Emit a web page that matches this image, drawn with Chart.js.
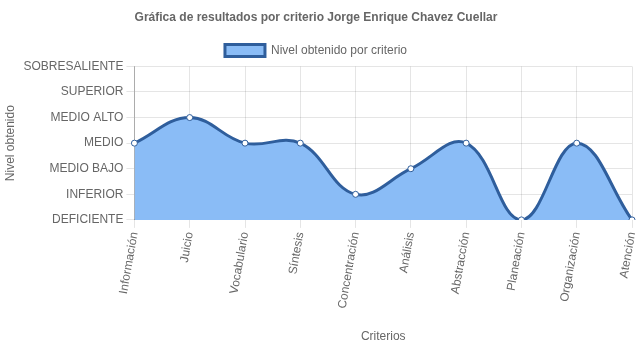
<!DOCTYPE html>
<html>
<head>
<meta charset="utf-8">
<script src="https://cdn.jsdelivr.net/npm/chart.js@4/dist/chart.umd.min.js"></script>
<style>
    html, body { margin: 0; padding: 0; background: #fff; }
    #wrap { width: 637px; height: 348px; }
</style>
</head>
<body>
<div id="wrap"><canvas id="resultsChart"></canvas></div>
<script>
// Chart data
const criterios = ['Información', 'Juicio', 'Vocabulario', 'Síntesis', 'Concentración',
    'Análisis', 'Abstracción', 'Planeación', 'Organización', 'Atención'];
const niveles = ['DEFICIENTE', 'INFERIOR', 'MEDIO BAJO', 'MEDIO', 'MEDIO ALTO', 'SUPERIOR', 'SOBRESALIENTE'];
const valores = [3, 4, 3, 3, 1, 2, 3, 0, 3, 0];

Chart.defaults.font.family = '"Liberation Sans", Arial, Helvetica, sans-serif';
Chart.defaults.font.size = 12;
Chart.defaults.color = '#666';

const ctx = document.getElementById('resultsChart').getContext('2d');

new Chart(ctx, {
    type: 'line',
    data: {
        labels: criterios,
        datasets: [{
            label: 'Nivel obtenido por criterio',
            data: valores,
            borderColor: '#2f5e9c',
            backgroundColor: 'rgba(138, 188, 246, 1)',
            borderWidth: 3,
            fill: 'origin',
            tension: 0.4,
            pointRadius: 3,
            pointBackgroundColor: '#fff',
            pointBorderColor: '#2f5e9c',
            pointBorderWidth: 1
        }]
    },
    options: {
        responsive: true,
        maintainAspectRatio: false,
        animation: false,
        layout: {
            padding: { left: 0, right: 5, top: 0, bottom: 0 }
        },
        plugins: {
            title: {
                display: true,
                text: 'Gráfica de resultados por criterio Jorge Enrique Chavez Cuellar',
                font: { size: 12, weight: 'bold' },
                padding: { top: 10, bottom: 14 }
            },
            legend: {
                display: true,
                labels: {
                    boxWidth: 40,
                    boxHeight: 12,
                    padding: 6
                }
            },
            tooltip: { enabled: false }
        },
        scales: {
            y: {
                min: 0,
                max: 6,
                ticks: {
                    stepSize: 1,
                    color: '#666',
                    callback: function(value) {
                        return niveles[value];
                    }
                },
                grid: {
                    color: 'rgba(0, 0, 0, 0.1)',
                    tickLength: 8
                },
                border: { color: 'rgba(0, 0, 0, 0.25)' },
                title: {
                    display: true,
                    text: 'Nivel obtenido',
                    color: '#666',
                    padding: { top: 3, bottom: 3 }
                }
            },
            x: {
                offset: false,
                ticks: {
                    minRotation: 80,
                    maxRotation: 80,
                    color: '#666'
                },
                grid: {
                    color: 'rgba(0, 0, 0, 0.1)',
                    tickLength: 8
                },
                border: { color: 'rgba(0, 0, 0, 0.25)' },
                title: {
                    display: true,
                    text: 'Criterios',
                    color: '#666',
                    padding: { top: 17, bottom: 4 }
                },
                // let the last point reach the right edge like the original
                afterFit: function(scale) {
                    scale.paddingRight = 0;
                }
            }
        }
    }
});
</script>
</body>
</html>
